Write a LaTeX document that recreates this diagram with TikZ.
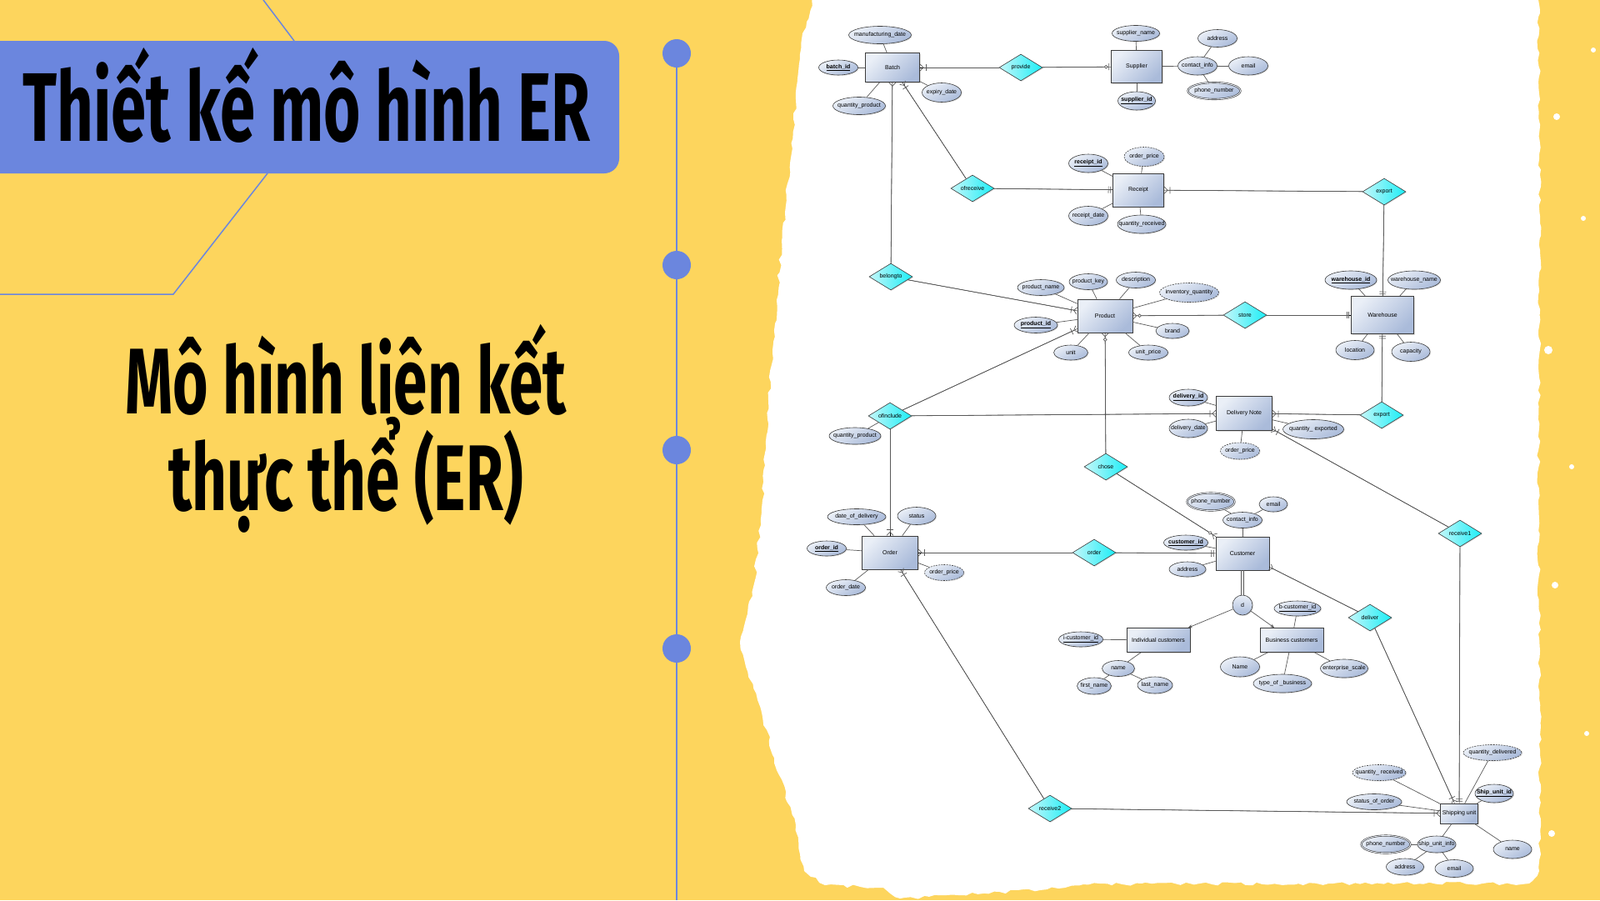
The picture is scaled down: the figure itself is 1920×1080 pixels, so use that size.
\documentclass[tikz,border=0pt]{standalone}
\usepackage{fontspec}
\newfontfamily\titlefont[FakeStretch=0.65]{Fira Sans}
\newfontfamily\erfont{Liberation Sans}
\usetikzlibrary{arrows.meta, shapes.geometric, shadows, decorations.pathmorphing}

\definecolor{bgyellow}{RGB}{253,213,93}
\definecolor{slideblue}{RGB}{107,134,222}
\definecolor{erline}{RGB}{90,90,90}
\definecolor{erborder}{RGB}{60,60,60}
\definecolor{entlight}{RGB}{234,239,247}
\definecolor{entdark}{RGB}{170,187,218}
\definecolor{rellight}{RGB}{196,247,250}
\definecolor{reldark}{RGB}{28,238,246}

\newcommand{\pkey}[1]{\underline{\textbf{#1}}}
\newcommand{\erfs}{\erfont\fontsize{7}{8}\selectfont}

\tikzset{
  ershadow/.style={drop shadow={shadow xshift=1pt, shadow yshift=-1pt, opacity=0.25}},
  ln/.style={draw=erline, line width=0.7pt},
  crow/.style={ln, preaction={draw, -}, -{Straight Barb[reversed, length=4pt, width=8pt]}},
  onemany/.style={ln, preaction={draw, -}, -{Bar[width=8pt, sep=2pt] Straight Barb[reversed, length=4pt, width=8pt]}},
  zeromany/.style={ln, preaction={draw, -}, -{Circle[length=4.5pt, fill=white, sep=1pt] Straight Barb[reversed, length=4pt, width=8pt]}},
  oneone/.style={ln, preaction={draw, -, shorten >=0pt}, shorten >=2pt, -{Bar[width=8pt, sep=2pt] Bar[width=8pt]}},
  zeroone/.style={ln, preaction={draw, -, shorten >=0pt}, shorten >=2pt, -{Circle[length=4.5pt, fill=white, sep=1pt] Bar[width=8pt]}}
}

\begin{document}
\begin{tikzpicture}[x=1pt, y=-1pt,
  entity/.style={rectangle, draw=erborder, line width=0.7pt, top color=entlight, bottom color=entdark, shading angle=45, inner sep=1pt, font=\erfs, ershadow},
  relship/.style={diamond, aspect=1.6, draw=erborder, line width=0.6pt, top color=rellight, bottom color=reldark, shading angle=90, inner sep=0pt, minimum width=52pt, minimum height=32pt, font=\erfs, ershadow},
  attr/.style={ellipse, draw=erborder, line width=0.6pt, top color=entlight, bottom color=entdark, shading angle=30, inner sep=0pt, minimum width=47pt, minimum height=20pt, font=\erfs, ershadow,
    execute at begin node={\hbox to 0pt\bgroup\hss}, execute at end node={\hss\egroup}},
  keyattr/.style={attr},
  derattr/.style={attr, dash pattern=on 2pt off 1.2pt},
  multiattr/.style={attr, double=entlight, double distance=0.9pt}
]
  \useasboundingbox (0,0) rectangle (1920,1080);
  \fill[bgyellow] (0,0) rectangle (1920,1080);

  % left half
  \draw[slideblue, line width=1.5pt] (316,0) -- (353,49);
  \draw[slideblue, line width=1.5pt] (321,208) -- (208,353) -- (0,353);
  \fill[slideblue, rounded corners=18pt] (-40,49) rectangle (743,208);
  \node[font=\titlefont\bfseries\fontsize{117}{120}\selectfont, anchor=base] (title) at (368,169) {Thiết kế mô hình ER};
  \node[font=\titlefont\bfseries\fontsize{112}{116}\selectfont, anchor=base] (sub1) at (415,496) {Mô hình liên kết};
  \node[font=\titlefont\bfseries\fontsize{112}{116}\selectfont, anchor=base] (sub2) at (415,612) {thực thể (ER)};

  \draw[slideblue, line width=2pt] (812,64) -- (812,1080);
  \foreach \y in {64, 318, 540, 778}
    \fill[slideblue] (812,\y) circle (17);

  % white paper
  \fill[white, decorate, decoration={random steps, segment length=7pt, amplitude=2pt}]
    (978,-6) -- (1846,-6) -- (1848,300) -- (1846,600) -- (1848,900) -- (1847,1045) -- (1835,1060)
    -- (1600,1060) -- (1300,1061) -- (1270,1066) -- (1150,1074) -- (1080,1078) -- (1060,1065)
    -- (990,1062) -- (965,1045) -- (955,990) -- (935,930) -- (915,860) -- (895,800) -- (888,770)
    -- (905,700) -- (915,600) -- (922,480) -- (932,360) -- (945,220) -- (955,120) -- (963,40) -- cycle;
  \foreach \x/\y/\r in {1868/140/4, 1900/262/3, 1858/420/5, 1886/560/3, 1866/702/4, 1904/880/3, 1862/1000/4, 1912/60/3}
    \fill[white] (\x,\y) circle (\r);

  % entities
  \node[entity, minimum width=65pt, minimum height=35pt] (Batch) at (1071,81) {Batch};
  \node[entity, minimum width=61pt, minimum height=39pt] (Supplier) at (1364,80) {Supplier};
  \node[entity, minimum width=61pt, minimum height=40pt] (Receipt) at (1366,228) {Receipt};
  \node[entity, minimum width=66pt, minimum height=40pt] (Product) at (1326,379) {Product};
  \node[entity, minimum width=75pt, minimum height=45pt] (Warehouse) at (1659,378) {Warehouse};
  \node[entity, minimum width=67pt, minimum height=41pt] (DN) at (1493,496) {Delivery Note};
  \node[entity, minimum width=67pt, minimum height=40pt] (Order) at (1068,663) {Order};
  \node[entity, minimum width=64pt, minimum height=40pt] (Customer) at (1491,664) {Customer};
  \node[entity, minimum width=76pt, minimum height=29pt] (Indiv) at (1390,768) {Individual customers};
  \node[entity, minimum width=76pt, minimum height=29pt] (Business) at (1550,768) {Business customers};
  \node[entity, minimum width=45pt, minimum height=24pt] (Ship) at (1751,976) {Shipping unit};

  % relationships
  \node[relship] (provide) at (1225,81) {provide};
  \node[relship] (ofreceive) at (1167,226) {ofreceive};
  \node[relship] (export) at (1661,230) {export};
  \node[relship] (belongto) at (1069,332) {belongto};
  \node[relship] (store) at (1494,378) {store};
  \node[relship] (ofinclude) at (1068,499) {ofinclude};
  \node[relship] (exportb) at (1658,498) {export};
  \node[relship] (chose) at (1327,560) {chose};
  \node[relship] (orderrel) at (1313,663) {order};
  \node[relship] (receive1) at (1752,640) {receive1};
  \node[relship] (deliver) at (1644,741) {deliver};
  \node[relship] (receive2) at (1260,970) {receive2};
  \node[circle, draw=erborder, line width=0.6pt, top color=entlight, bottom color=entdark, minimum size=24pt, inner sep=0pt, font=\erfs, ershadow] (dis) at (1491,726) {d};

  % attributes
  \node[attr, minimum width=75pt, minimum height=21pt] (mfgdate) at (1056,42) {manufacturing\_date};
  \node[keyattr, minimum height=18pt] (batchid) at (1006,81) {\pkey{batch\_id}};
  \node[attr, minimum width=63pt, minimum height=21pt] (qtyprod) at (1031,127) {quantity\_product};
  \node[attr, minimum height=23pt] (expiry) at (1130,111) {expiry\_date};
  \node[attr, minimum width=57pt, minimum height=19pt] (supname) at (1363,40) {supplier\_name};
  \node[keyattr, minimum width=45pt, minimum height=22pt] (supid) at (1364,121) {\pkey{supplier\_id}};
  \node[attr, minimum height=22pt] (supcontact) at (1437,79) {contact\_info};
  \node[attr, minimum height=21pt] (supaddr) at (1461,46) {address};
  \node[attr, minimum height=22pt] (supemail) at (1498,79) {email};
  \node[multiattr, minimum width=63pt] (supphone) at (1457,109) {phone\_number};
  \node[keyattr, minimum height=22pt] (recid) at (1306,196) {\pkey{receipt\_id}};
  \node[derattr, minimum width=48pt, minimum height=23pt] (recprice) at (1373,188) {order\_price};
  \node[attr, minimum height=23pt] (recdate) at (1306,259) {receipt\_date};
  \node[attr, minimum width=58pt, minimum height=22pt] (recqty) at (1370,269) {quantity\_received};
  \node[attr, minimum width=56pt, minimum height=19pt] (prodname) at (1249,345) {product\_name};
  \node[keyattr, minimum width=52pt, minimum height=19pt] (prodid) at (1243,390) {\pkey{product\_id}};
  \node[attr, minimum width=46pt, minimum height=19pt] (prodkey) at (1306,338) {product\_key};
  \node[attr, minimum height=19pt] (proddesc) at (1363,336) {description};
  \node[derattr, minimum width=71pt, minimum height=23pt] (prodinv) at (1427,351) {inventory\_quantity};
  \node[attr, minimum width=40pt, minimum height=18pt] (brand) at (1407,397) {brand};
  \node[attr, minimum height=18pt] (unitprice) at (1378,423) {unit\_price};
  \node[attr, minimum width=41pt, minimum height=18pt] (unit) at (1285,423) {unit};
  \node[keyattr, minimum width=62pt, minimum height=22pt] (whid) at (1621,336) {\pkey{warehouse\_id}};
  \node[attr, minimum width=63pt, minimum height=22pt] (whname) at (1697,336) {warehouse\_name};
  \node[attr, minimum width=46pt, minimum height=23pt] (location) at (1626,420) {location};
  \node[attr, minimum width=46pt, minimum height=23pt] (capacity) at (1693,422) {capacity};
  \node[keyattr, minimum width=46pt] (dnid) at (1426,477) {\pkey{delivery\_id}};
  \node[attr, minimum width=46pt, minimum height=22pt] (dndate) at (1426,514) {delivery\_date};
  \node[derattr] (dnprice) at (1488,541) {order\_price};
  \node[attr, minimum width=73pt, minimum height=23pt] (dnqty) at (1576,515) {quantity\_ exported};
  \node[attr, minimum width=62pt] (incqty) at (1026,523) {quantity\_product};
  \node[attr, minimum width=70pt, minimum height=19pt] (orddeliv) at (1028,620) {date\_of\_delivery};
  \node[attr, minimum width=46pt, minimum height=21pt] (ordstatus) at (1100,619) {status};
  \node[keyattr, minimum height=18pt] (ordid) at (992,658) {\pkey{order\_id}};
  \node[derattr, minimum height=19pt] (ordprice) at (1133,687) {order\_price};
  \node[attr, minimum height=19pt] (orddate) at (1015,705) {order\_date};
  \node[multiattr, minimum width=57pt, minimum height=21pt] (cusphone) at (1453,602) {phone\_number};
  \node[attr, minimum width=34pt, minimum height=18pt] (cusemail) at (1528,605) {email};
  \node[attr, minimum height=19pt] (cuscontact) at (1491,624) {contact\_info};
  \node[keyattr, minimum width=53pt, minimum height=18pt] (cusid) at (1423,651) {\pkey{customer\_id}};
  \node[attr, minimum width=44pt, minimum height=18pt] (cusaddr) at (1425,683) {address};
  \node[attr, minimum width=53pt, minimum height=18pt] (icusid) at (1297,767) {\underline{i-customer\_id}};
  \node[attr, minimum width=39pt, minimum height=19pt] (iname) at (1342,802) {name};
  \node[attr, minimum width=41pt] (ifirst) at (1313,823) {first\_name};
  \node[attr, minimum width=42pt] (ilast) at (1386,822) {last\_name};
  \node[attr, minimum width=56pt, minimum height=18pt] (bcusid) at (1557,730) {\underline{b-customer\_id}};
  \node[attr, minimum height=24pt] (bname) at (1488,800) {Name};
  \node[attr, minimum width=57pt, minimum height=22pt] (bscale) at (1613,802) {enterprise\_scale};
  \node[attr, minimum width=70pt, minimum height=22pt] (btype) at (1539,820) {type\_of \_business};
  \node[derattr, minimum width=70pt, minimum height=19pt] (shqtyd) at (1791,903) {quantity\_delivered};
  \node[derattr, minimum width=64pt, minimum height=19pt] (shqtyr) at (1655,927) {quantity\_ received};
  \node[keyattr, minimum width=46pt, minimum height=22pt] (shid) at (1793,952) {\pkey{Ship\_unit\_id}};
  \node[attr, minimum width=66pt, minimum height=19pt] (shstatus) at (1649,962) {status\_of\_order};
  \node[attr, minimum width=46pt] (shinfo) at (1724,1013) {ship\_unit\_info};
  \node[multiattr, minimum width=59pt, minimum height=21pt] (shphone) at (1663,1013) {phone\_number};
  \node[attr, minimum width=45pt] (shaddr) at (1686,1040) {address};
  \node[attr, minimum width=46pt, minimum height=21pt] (shemail) at (1745,1042) {email};
  \node[attr, minimum width=46pt, minimum height=22pt] (shname) at (1815,1019) {name};

  % attribute links
  \foreach \a/\b in {Batch/mfgdate, Batch/batchid, Batch/qtyprod, Batch/expiry,
      Supplier/supname, Supplier/supid, Supplier/supcontact, supcontact/supaddr, supcontact/supemail, supcontact/supphone,
      Receipt/recid, Receipt/recprice, Receipt/recdate, Receipt/recqty,
      Product/prodname, Product/prodid, Product/prodkey, Product/proddesc, Product/prodinv, Product/brand, Product/unitprice, Product/unit,
      Warehouse/whid, Warehouse/whname, Warehouse/location, Warehouse/capacity,
      DN/dnid, DN/dndate, DN/dnprice, DN/dnqty, ofinclude/incqty,
      Order/orddeliv, Order/ordstatus, Order/ordid, Order/ordprice, Order/orddate,
      Customer/cuscontact, Customer/cusid, Customer/cusaddr, cuscontact/cusphone, cuscontact/cusemail,
      Indiv/icusid, Indiv/iname, iname/ifirst, iname/ilast,
      Business/bcusid, Business/bname, Business/bscale, Business/btype,
      Ship/shqtyd, Ship/shqtyr, Ship/shid, Ship/shstatus, Ship/shinfo, Ship/shname, shinfo/shphone, shinfo/shaddr, shinfo/shemail}
    \draw[ln] (\a) -- (\b);

  % relationship links
  \foreach \r/\e in {provide/Batch, ofreceive/Batch, export/Receipt, belongto/Product, ofinclude/Product, ofinclude/DN,
      ofinclude/Order, exportb/DN, orderrel/Order, receive1/DN, deliver/Ship, receive2/Order, receive2/Ship}
    \draw[onemany] (\r) -- (\e);
  \foreach \r/\e in {ofreceive/Receipt, export/Warehouse, store/Warehouse, exportb/Warehouse, orderrel/Customer, receive1/Ship}
    \draw[oneone] (\r) -- (\e);
  \foreach \r/\e in {store/Product, chose/Product, chose/Customer}
    \draw[zeromany] (\r) -- (\e);
  \draw[zeroone] (provide) -- (Supplier);
  \draw[crow] (belongto) -- (Batch);
  \draw[crow] (deliver) -- (Customer);

  % specialisation
  \draw[ln, line width=0.8pt] ([xshift=-1.3pt]Customer.south) -- ([xshift=-1.3pt]dis.north);
  \draw[ln, line width=0.8pt] ([xshift=1.3pt]Customer.south) -- ([xshift=1.3pt]dis.north);
  \draw[ln, -{Stealth[length=5pt, width=4pt]}] (dis) -- (Indiv);
  \draw[ln, -{Stealth[length=5pt, width=4pt]}] (dis) -- (Business);
\end{tikzpicture}
\end{document}
